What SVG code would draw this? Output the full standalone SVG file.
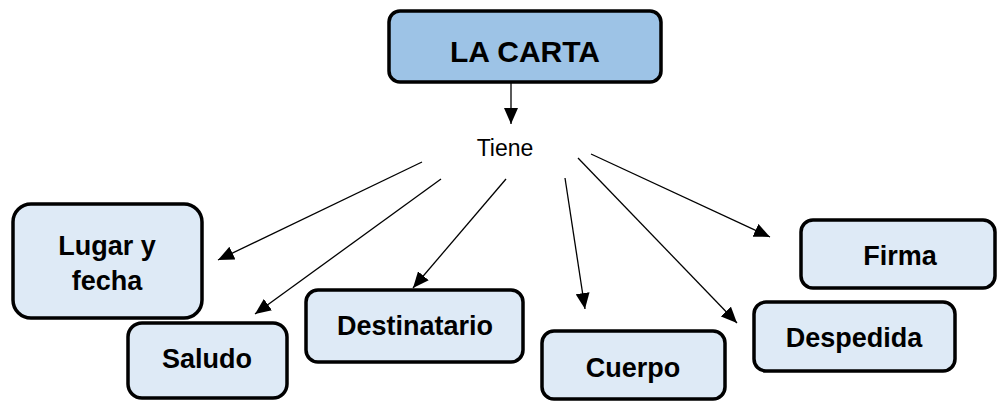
<svg xmlns="http://www.w3.org/2000/svg" width="997" height="401" viewBox="0 0 997 401">
<style>
.box{fill:#DEEAF6;stroke:#000;stroke-width:3.5}
.main{fill:#9DC3E6;stroke:#000;stroke-width:3.5}
.lbl{font-family:"Liberation Sans",Arial,sans-serif;font-weight:bold;font-size:27px;fill:#000;text-anchor:middle}
.conn line{stroke:#000;stroke-width:1.3}
</style>
<defs>
<marker id="ah" markerUnits="userSpaceOnUse" markerWidth="18" markerHeight="14" refX="16" refY="7" orient="auto">
<path d="M0,0 L16,7 L0,14 Z" fill="#000"/>
</marker>
</defs>
<g id="conns" class="conn">
<line x1="511" y1="83" x2="511" y2="124" marker-end="url(#ah)"/>
<line x1="422" y1="162" x2="218" y2="260" marker-end="url(#ah)"/>
<line x1="441" y1="179" x2="255" y2="314" marker-end="url(#ah)"/>
<line x1="506" y1="179" x2="413" y2="288" marker-end="url(#ah)"/>
<line x1="565" y1="178" x2="585" y2="309" marker-end="url(#ah)"/>
<line x1="578" y1="158" x2="737" y2="323" marker-end="url(#ah)"/>
<line x1="591" y1="154" x2="770" y2="237" marker-end="url(#ah)"/>
</g>
<g id="n-carta">
<rect class="main" x="389" y="11" width="272" height="71" rx="11"/>
<text class="lbl" x="525" y="62" style="font-size:30px">LA CARTA</text>
</g>
<g id="n-tiene">
<text x="505" y="156" style="font-family:'Liberation Sans',Arial,sans-serif;font-size:23px;text-anchor:middle">Tiene</text>
</g>
<g id="n-lugar">
<rect class="box" x="13" y="204" width="189" height="114" rx="18"/>
<text class="lbl" x="107" y="255">Lugar y</text>
<text class="lbl" x="107" y="290">fecha</text>
</g>
<g id="n-saludo">
<rect class="box" x="128" y="323" width="159" height="75" rx="14"/>
<text class="lbl" x="207" y="368">Saludo</text>
</g>
<g id="n-destinatario">
<rect class="box" x="306" y="290" width="217" height="72" rx="12"/>
<text class="lbl" x="415" y="335">Destinatario</text>
</g>
<g id="n-cuerpo">
<rect class="box" x="542" y="331" width="183" height="68" rx="12"/>
<text class="lbl" x="633" y="377">Cuerpo</text>
</g>
<g id="n-firma">
<rect class="box" x="801" y="220" width="194" height="68" rx="12"/>
<text class="lbl" x="900" y="265">Firma</text>
</g>
<g id="n-despedida">
<rect class="box" x="754" y="302" width="201" height="69" rx="12"/>
<text class="lbl" x="854" y="347">Despedida</text>
</g>
</svg>
